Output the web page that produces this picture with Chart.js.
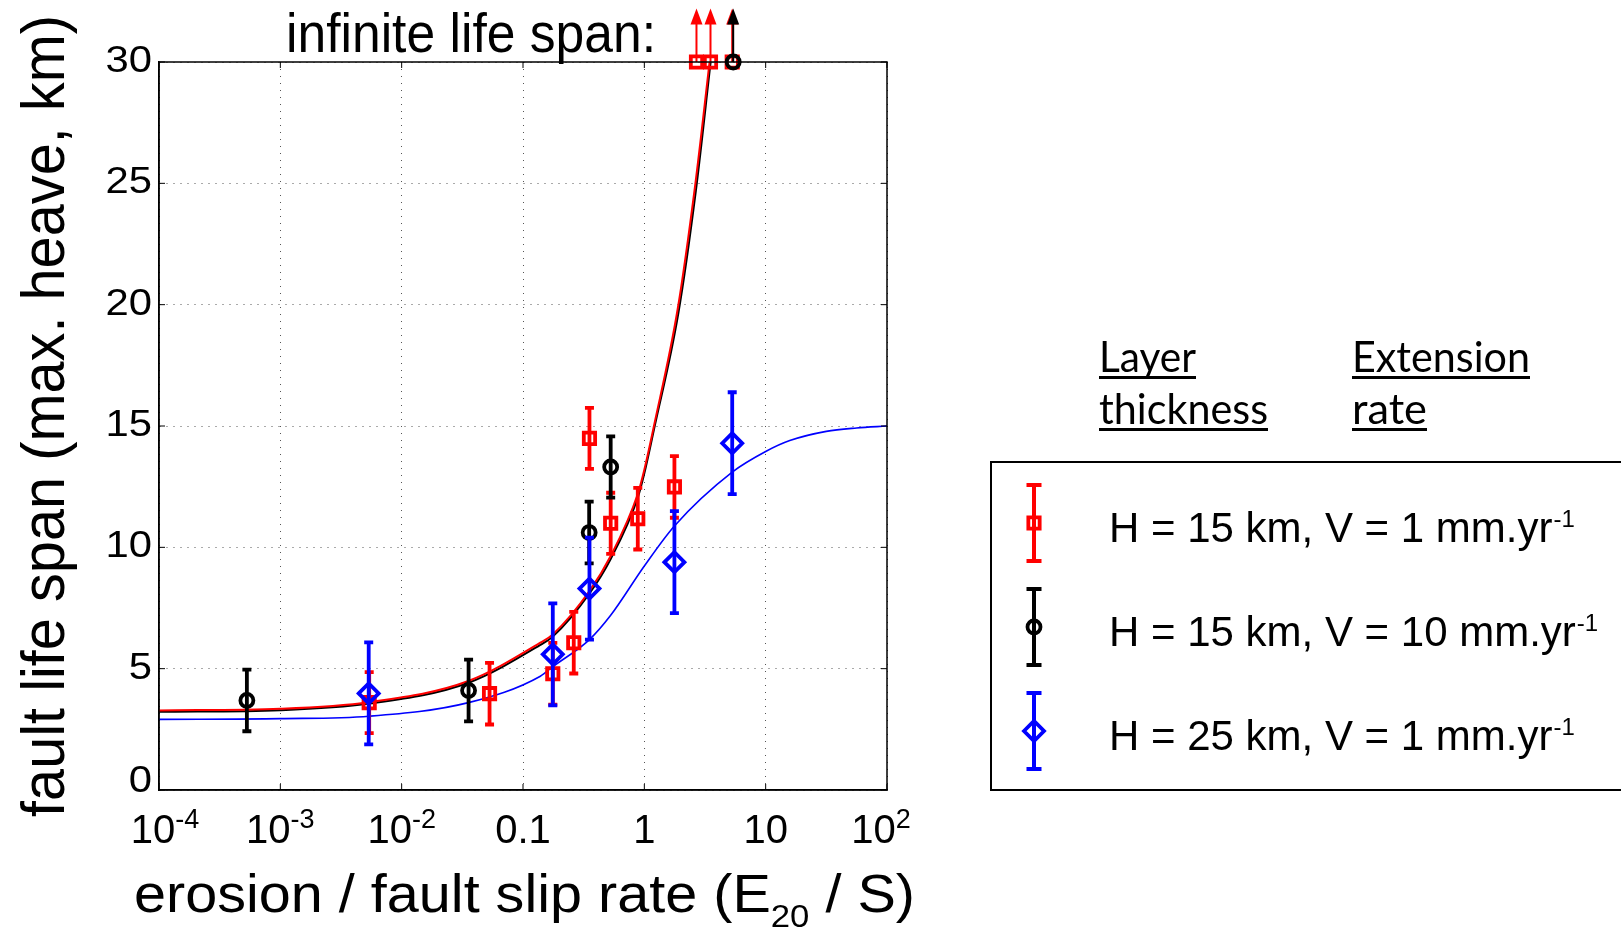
<!DOCTYPE html>
<html lang="en">
<head>
<meta charset="UTF-8">
<title>Fault life span vs erosion rate</title>
<script src="https://cdn.jsdelivr.net/npm/chart.js@4.4.1/dist/chart.umd.min.js"></script>
<style>
  html, body { margin: 0; padding: 0; background: #fff; }
  canvas { display: block; }
</style>
</head>
<body>
<canvas id="lifeChart" width="1621" height="930"></canvas>
<script>
// axis ticks
const xTicks = [1e-4, 1e-3, 1e-2, 0.1, 1, 10, 100];
const xTickBase = ['10', '10', '10', '0.1', '1', '10', '10'];
const xTickExp = ['-4', '-3', '-2', '', '', '', '2'];
const yTicks = [0, 5, 10, 15, 20, 25, 30];

// H = 15 km, V = 1 mm/yr
const redX = [0.0054, 0.053, 0.176, 0.262, 0.353, 0.528, 0.883, 1.77];
const redY = [3.6, 3.97, 4.79, 6.07, 14.49, 10.99, 11.18, 12.49];
const redErr = [1.26, 1.27, 1.27, 1.27, 1.26, 1.26, 1.27, 1.27];
const redInfX = [2.69, 3.51, 5.3];

// H = 15 km, V = 10 mm/yr
const blackX = [5.3e-4, 0.0356, 0.351, 0.528];
const blackY = [3.69, 4.1, 10.61, 13.31];
const blackErr = [1.27, 1.27, 1.27, 1.26];
const blackInfX = [5.4];

// H = 25 km, V = 1 mm/yr
const blueX = [0.00535, 0.176, 0.353, 1.77, 5.3];
const blueY = [3.98, 5.59, 8.3, 9.39, 14.29];
const blueErr = [2.1, 2.1, 2.1, 2.1, 2.1];

// model curves
const redCurveX = [1e-4, 1e-3, 0.0054, 0.0355, 0.139, 0.176, 0.353, 0.528, 0.883, 1.0, 1.2, 1.88, 2.62, 3.45];
const redCurveY = [3.28, 3.35, 3.62, 4.49, 6.07, 6.41, 8.2, 9.64, 12.2, 13.2, 15.0, 19.8, 24.9, 30];
const blackCurveX = [1e-4, 1e-3, 0.0054, 0.0355, 0.139, 0.176, 0.353, 0.528, 0.883, 1.0, 1.2, 1.9, 2.66, 3.52];
const blackCurveY = [3.22, 3.29, 3.56, 4.42, 5.98, 6.32, 8.1, 9.52, 12.05, 13.05, 14.85, 19.6, 24.7, 30];
const blueCurveX = [1e-4, 1e-3, 0.0054, 0.0355, 0.139, 0.176, 0.353, 0.528, 1.0, 1.77, 5.3, 10, 15.8, 31.6, 56.2, 100];
const blueCurveY = [2.91, 2.94, 3.04, 3.6, 4.69, 5.08, 6.2, 7.2, 9.23, 10.88, 13.1, 13.95, 14.4, 14.78, 14.92, 15.0];

const infTop = 32.2;

const legendLabels = ['H = 15 km, V = 1 mm.yr', 'H = 15 km, V = 10 mm.yr', 'H = 25 km, V = 1 mm.yr'];
const legendSup = '-1';

const RED = '#ff0000', BLACK = '#000000', BLUE = '#0000ff';
const FAM = '"Liberation Sans", Arial, Helvetica, sans-serif';
const CAL = 'Lato, "Open Sans", sans-serif';

const pts = (xs, ys) => xs.map((x, i) => ({ x, y: ys[i] }));

// text helper: optional horizontal squeeze to a target width
function txt(ctx, s, x, y, size, o = {}) {
  ctx.save();
  ctx.font = `${size}px ${o.family || FAM}`;
  ctx.fillStyle = o.color || '#000';
  ctx.textBaseline = 'alphabetic';
  ctx.textAlign = 'left';
  const w = ctx.measureText(s).width;
  const sx = o.width ? o.width / w : (o.sx || 1);
  let x0 = x;
  if (o.align === 'right') x0 = x - w * sx;
  else if (o.align === 'center') x0 = x - w * sx / 2;
  ctx.translate(x0, y);
  ctx.scale(sx, 1);
  ctx.fillText(s, 0, 0);
  ctx.restore();
  return w * sx;
}

function measure(ctx, s, size, family) {
  ctx.save();
  ctx.font = `${size}px ${family || FAM}`;
  const w = ctx.measureText(s).width;
  ctx.restore();
  return w;
}

function errBar(ctx, px, top, bot, half, lw) {
  ctx.lineWidth = lw;
  ctx.beginPath();
  ctx.moveTo(px, top); ctx.lineTo(px, bot);
  ctx.moveTo(px - half, top); ctx.lineTo(px + half, top);
  ctx.moveTo(px - half, bot); ctx.lineTo(px + half, bot);
  ctx.stroke();
}

// error bars and "infinite" arrows, drawn under each dataset's markers
const errorBars = {
  id: 'errorBars',
  beforeDatasetDraw(chart, args) {
    const ds = chart.data.datasets[args.index];
    if (!ds.errors && !ds.arrowTop) return;
    const { ctx, scales: { x, y } } = chart;
    ctx.save();
    ctx.strokeStyle = ds.borderColor;
    ctx.fillStyle = ds.borderColor;
    ctx.lineCap = 'butt';
    ds.data.forEach((p, i) => {
      const px = x.getPixelForValue(p.x);
      if (ds.errors) {
        errBar(ctx, px, y.getPixelForValue(p.y + ds.errors[i]), y.getPixelForValue(p.y - ds.errors[i]), 4.5, 3.8);
      }
      if (ds.arrowTop) {
        const base = y.getPixelForValue(p.y);
        const tip = y.getPixelForValue(ds.arrowTop);
        ctx.lineWidth = 2;
        ctx.beginPath();
        ctx.moveTo(px, base); ctx.lineTo(px, tip + 14);
        ctx.stroke();
        ctx.beginPath();
        ctx.moveTo(px, tip);
        ctx.lineTo(px - 6, tip + 16);
        ctx.lineTo(px + 6, tip + 16);
        ctx.closePath();
        ctx.fill();
      }
    });
    ctx.restore();
  }
};

// frame, tick labels, titles and the legend block
const decorations = {
  id: 'decorations',
  afterDraw(chart) {
    const { ctx, chartArea: a, scales: { x, y } } = chart;
    ctx.save();
    ctx.strokeStyle = '#000';
    ctx.fillStyle = '#000';
    ctx.lineWidth = 1.5;
    ctx.strokeRect(a.left, a.top, a.right - a.left, a.bottom - a.top);

    // short inward tick marks
    ctx.lineWidth = 1;
    ctx.beginPath();
    xTicks.forEach(v => {
      const px = x.getPixelForValue(v);
      ctx.moveTo(px, a.bottom); ctx.lineTo(px, a.bottom - 6);
      ctx.moveTo(px, a.top); ctx.lineTo(px, a.top + 6);
    });
    yTicks.forEach(v => {
      const py = y.getPixelForValue(v);
      ctx.moveTo(a.left, py); ctx.lineTo(a.left + 6, py);
      ctx.moveTo(a.right, py); ctx.lineTo(a.right - 6, py);
    });
    ctx.stroke();

    // y tick labels
    yTicks.forEach(v => {
      const py = y.getPixelForValue(v);
      const shift = v === 0 ? 2 : 10;
      txt(ctx, String(v), a.left - 7, py + shift, 37, { align: 'right', sx: 1.13 });
    });

    // x tick labels with exponents
    xTicks.forEach((v, i) => {
      const px = x.getPixelForValue(v);
      const wb = measure(ctx, xTickBase[i], 40);
      const we = xTickExp[i] ? measure(ctx, xTickExp[i], 27) : 0;
      const x0 = px - (wb + we) / 2 + (i === 0 ? 6 : 0) - (i === xTicks.length - 1 ? 6 : 0);
      txt(ctx, xTickBase[i], x0, 843, 40);
      if (we) txt(ctx, xTickExp[i], x0 + wb, 828, 27);
    });

    // x axis title with subscript
    const p1 = 'erosion / fault slip rate (E', p2 = '20', p3 = ' / S)';
    const w1 = measure(ctx, p1, 53), w2 = measure(ctx, p2, 32), w3 = measure(ctx, p3, 53);
    const s = 781 / (w1 + w2 + w3);
    let cx = 134;
    cx += txt(ctx, p1, cx, 912, 53, { sx: s });
    cx += txt(ctx, p2, cx, 927, 32, { sx: s });
    txt(ctx, p3, cx, 912, 53, { sx: s });

    // y axis title
    ctx.save();
    ctx.translate(64, 817);
    ctx.rotate(-Math.PI / 2);
    txt(ctx, 'fault life span (max. heave, km)', 0, 0, 62, { width: 802 });
    ctx.restore();

    // note above the plot
    txt(ctx, 'infinite life span:', 286, 52, 56, { width: 370 });

    // legend header, underlined
    const head = [['Layer', 1099, 372, 97], ['thickness', 1099, 424, 169],
                  ['Extension', 1352, 372, 178], ['rate', 1352, 424, 75]];
    head.forEach(([t, hx, hy, hw]) => {
      txt(ctx, t, hx, hy, 42, { family: CAL, width: hw });
      ctx.fillStyle = '#000';
      ctx.fillRect(hx, hy + 4, hw, 3);
    });

    // legend box
    ctx.strokeStyle = '#000';
    ctx.lineWidth = 2;
    ctx.strokeRect(991, 462, 700, 328);
    const cols = [RED, BLACK, BLUE];
    const styles = ['rect', 'circle', 'rectRot'];
    const radii = [8, 6.5, 10];
    const rows = [523, 627, 731];
    rows.forEach((ry, i) => {
      ctx.strokeStyle = cols[i];
      ctx.fillStyle = 'rgba(0,0,0,0)';
      errBar(ctx, 1034, ry - 38, ry + 38, 7.5, 4);
      ctx.lineWidth = 3.8;
      Chart.helpers.drawPoint(ctx, { pointStyle: styles[i], radius: radii[i], borderWidth: 3.8, rotation: 0 }, 1034, ry);
      const w = txt(ctx, legendLabels[i], 1109, ry + 19, 42);
      txt(ctx, legendSup, 1109 + w + 1, ry + 4, 24);
    });
    ctx.restore();
  }
};

const markerSet = (label, xs, ys, errs, color, style, radius, order) => ({
  label, data: pts(xs, ys), errors: errs, order,
  borderColor: color, backgroundColor: 'rgba(0,0,0,0)',
  pointStyle: style, pointRadius: radius, pointBorderWidth: 3.8,
  pointHoverRadius: radius, clip: false, showLine: false
});

const curveSet = (label, xs, ys, color, width, order) => ({
  label, data: pts(xs, ys), order, showLine: true,
  borderColor: color, borderWidth: width, pointRadius: 0, pointHoverRadius: 0,
  cubicInterpolationMode: 'monotone', fill: false
});

const infSet = (label, xs, color, style, radius, order) => ({
  label, data: xs.map(x => ({ x, y: 30 })), arrowTop: infTop, order,
  borderColor: color, backgroundColor: 'rgba(0,0,0,0)',
  pointStyle: style, pointRadius: radius, pointBorderWidth: 3.8,
  clip: false, showLine: false
});

const grid = { color: '#555', lineWidth: 1, drawTicks: false };
const border = { display: true, color: '#000', width: 1.5, dash: [1, 6] };

new Chart(document.getElementById('lifeChart'), {
  type: 'scatter',
  data: {
    datasets: [
      curveSet('blue fit', blueCurveX, blueCurveY, BLUE, 1.6, 9),
      curveSet('black fit', blackCurveX, blackCurveY, BLACK, 2, 8),
      curveSet('red fit', redCurveX, redCurveY, RED, 2, 7),
      markerSet('H = 15 km, V = 1 mm/yr', redX, redY, redErr, RED, 'rect', 8, 6),
      infSet('red infinite', redInfX, RED, 'rect', 8, 5),
      markerSet('H = 15 km, V = 10 mm/yr', blackX, blackY, blackErr, BLACK, 'circle', 6.5, 4),
      infSet('black infinite', blackInfX, BLACK, 'circle', 6.5, 3),
      markerSet('H = 25 km, V = 1 mm/yr', blueX, blueY, blueErr, BLUE, 'rectRot', 10, 2)
    ]
  },
  options: {
    responsive: false,
    animation: false,
    devicePixelRatio: 1,
    layout: { padding: { left: 159, top: 62, right: 734, bottom: 140 } },
    plugins: { legend: { display: false }, tooltip: { enabled: false } },
    events: [],
    scales: {
      x: {
        type: 'logarithmic', min: 1e-4, max: 100,
        ticks: { display: false },
        afterBuildTicks: axis => { axis.ticks = xTicks.map(v => ({ value: v })); },
        grid, border
      },
      y: {
        type: 'linear', min: 0, max: 30,
        ticks: { display: false, stepSize: 5 },
        afterBuildTicks: axis => { axis.ticks = yTicks.map(v => ({ value: v })); },
        grid, border
      }
    }
  },
  plugins: [errorBars, decorations]
});
</script>
</body>
</html>
